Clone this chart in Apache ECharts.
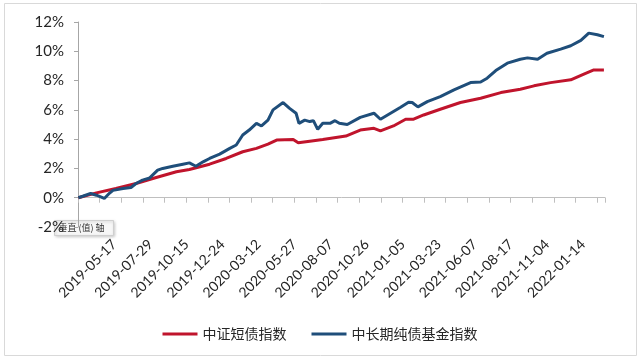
<!DOCTYPE html>
<html>
<head>
<meta charset="utf-8">
<script src="https://cdn.jsdelivr.net/npm/echarts@6/dist/echarts.min.js"></script>
<style>html,body{margin:0;padding:0;background:#fff;}#c{width:640px;height:362px;}</style>
</head>
<body>
<div id="c"></div>
<script>
// ---- data ----
const startDate = '2019-03-04';
const tradingDayCount = 731;
const holidays = ['2019-04-05','2019-05-01','2019-05-02','2019-05-03','2019-06-07','2019-09-13',
  '2019-10-01','2019-10-02','2019-10-03','2019-10-04','2019-10-07',
  '2020-01-01','2020-01-24','2020-01-27','2020-01-28','2020-01-29','2020-01-30','2020-01-31',
  '2020-04-06','2020-05-01','2020-05-04','2020-05-05','2020-06-25','2020-06-26',
  '2020-10-01','2020-10-02','2020-10-05','2020-10-06','2020-10-07','2020-10-08',
  '2021-01-01','2021-02-11','2021-02-12','2021-02-15','2021-02-16','2021-02-17','2021-04-05',
  '2021-05-03','2021-05-04','2021-05-05','2021-06-14','2021-09-20','2021-09-21',
  '2021-10-01','2021-10-04','2021-10-05','2021-10-06','2021-10-07',
  '2022-01-03','2022-01-31','2022-02-01','2022-02-02','2022-02-03','2022-02-04'];
const tickLabels = ['2019-05-17','2019-07-29','2019-10-15','2019-12-24','2020-03-12','2020-05-27',
  '2020-08-07','2020-10-26','2021-01-05','2021-03-23','2021-06-07','2021-08-17','2021-11-04','2022-01-14'];
const seriesNames = ['中证短债指数','中长期纯债基金指数'];
// index of trading day, cumulative return (%)
const shortIdx = [0,25,52,80,108,136,154,182,205,228,247,263,275,298,305,321,339,371,391,410,419,437,454,465,479,502,530,558,586,613,632,655,683,702,715,729];
const shortVal = [0,0.33,0.63,0.97,1.38,1.77,1.93,2.29,2.68,3.14,3.37,3.66,3.94,3.98,3.75,3.86,3.98,4.21,4.62,4.74,4.57,4.9,5.36,5.36,5.65,6.04,6.5,6.79,7.18,7.41,7.64,7.86,8.05,8.46,8.73,8.73];
const longIdx = [0,6,17,25,31,36,43,48,62,73,80,89,99,110,117,131,145,154,163,173,182,196,210,219,228,237,247,254,263,270,284,293,302,306,314,321,326,332,339,349,356,362,373,391,410,419,433,447,458,463,471,484,502,521,544,558,567,579,595,613,623,637,650,669,683,697,708,720,729];
const longVal = [0,0.1,0.29,0.17,0.05,-0.05,0.3,0.5,0.63,0.7,0.97,1.2,1.35,1.88,2.0,2.15,2.29,2.38,2.15,2.45,2.68,2.98,3.37,3.6,4.28,4.62,5.08,4.9,5.3,6.0,6.5,6.1,5.77,5.08,5.3,5.2,5.26,4.67,5.08,5.08,5.26,5.08,5.0,5.49,5.77,5.36,5.77,6.18,6.52,6.5,6.2,6.56,6.9,7.36,7.86,7.9,8.16,8.68,9.19,9.46,9.55,9.46,9.87,10.15,10.38,10.74,11.24,11.13,11.0];

// ---- build categories (trading days) ----
const holidaySet = new Set(holidays);
const categories = [];
(function(){
  const d = new Date(startDate + 'T00:00:00Z');
  while (categories.length < tradingDayCount) {
    const wd = d.getUTCDay();
    const s = d.toISOString().slice(0,10);
    if (wd !== 0 && wd !== 6 && !holidaySet.has(s)) categories.push(s);
    d.setUTCDate(d.getUTCDate() + 1);
  }
})();
const tickSet = new Set(tickLabels);
const pairs = (xs, ys) => xs.map((x,i) => [x, ys[i]]);

const labelFont = 'Lato, "Liberation Sans", sans-serif';
const chart = echarts.init(document.getElementById('c'), null, {renderer:'canvas'});
chart.setOption({
  animation: false,
  grid: {left: 78, right: 35, top: 22, bottom: 135, containLabel: false},
  xAxis: [{
    type: 'category', data: categories, boundaryGap: true,
    axisLine: {onZero: true, lineStyle: {color: '#bfbfbf', width: 1}},
    axisTick: {show: true, interval: 29, length: 5, lineStyle: {color: '#bfbfbf'}},
    axisLabel: {show: false}
  },{
    type: 'category', data: categories, boundaryGap: true, position: 'bottom',
    axisLine: {show: false, onZero: false}, axisTick: {show: false},
    axisLabel: {
      show: true, rotate: 45, margin: 15,
      interval: function(i, v){ return tickSet.has(v); },
      color: '#262626', fontSize: 14, fontFamily: labelFont
    }
  }],
  yAxis: {
    type: 'value', min: -2, max: 12, interval: 2,
    axisLine: {show: true, lineStyle: {color: '#a6a6a6'}},
    axisTick: {show: true, length: 4, lineStyle: {color: '#a6a6a6'}},
    splitLine: {show: false},
    axisLabel: {formatter: '{value}%', margin: 14, color: '#262626', fontSize: 15, fontFamily: labelFont}
  },
  legend: {
    data: seriesNames, left: 'center', top: 322, itemWidth: 35, itemHeight: 3, itemGap: 25,
    icon: 'rect',
    textStyle: {fontSize: 14, color: '#262626', fontFamily: '"Noto Sans CJK SC", sans-serif'}
  },
  series: [{
    name: seriesNames[0], type: 'line', xAxisIndex: 0, data: pairs(shortIdx, shortVal),
    showSymbol: false, symbol: 'none', lineStyle: {color: '#c0142c', width: 3}, itemStyle: {color: '#c0142c'}
  },{
    name: seriesNames[1], type: 'line', xAxisIndex: 0, data: pairs(longIdx, longVal),
    showSymbol: false, symbol: 'none', lineStyle: {color: '#1f4e7a', width: 3}, itemStyle: {color: '#1f4e7a'}
  }],
  graphic: [
    {type: 'rect', z: 0, silent: true, shape: {x: 4.5, y: 3.5, width: 632, height: 352},
     style: {fill: 'none', stroke: '#d9d9d9', lineWidth: 1}},
    {type: 'group', z: 100, left: 54, top: 220, children: [
      {type: 'rect', shape: {x: 0, y: 0, width: 59, height: 15},
       style: {fill: '#f7f7f7', stroke: '#cfcfcf', lineWidth: 1, shadowBlur: 3, shadowColor: 'rgba(0,0,0,0.2)', shadowOffsetX: 1, shadowOffsetY: 1}},
      {type: 'text', x: 4, y: 7.5, style: {text: '垂直 (值) 轴', fontSize: 9, fill: '#333', verticalAlign: 'middle', fontFamily: '"Noto Sans CJK SC", sans-serif'}}
    ]}
  ]
});
</script>
</body>
</html>
